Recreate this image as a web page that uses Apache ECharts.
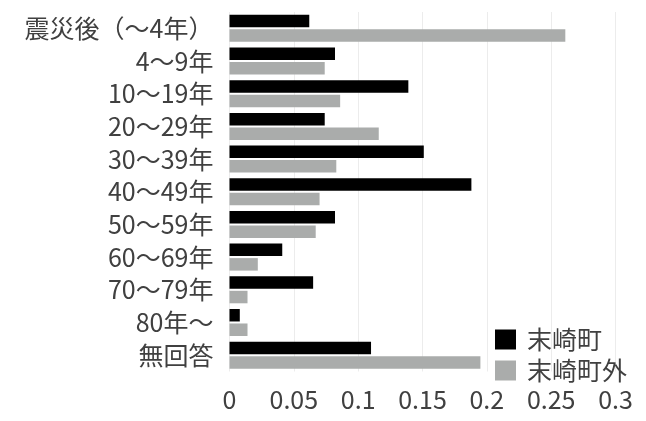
<!DOCTYPE html>
<html>
<head>
<meta charset="utf-8">
<script src="https://cdn.jsdelivr.net/npm/echarts@6/dist/echarts.min.js"></script>
<style>
  html, body { margin: 0; padding: 0; background: #fff; }
  #chart { width: 646px; height: 421px; }
</style>
</head>
<body>
<div id="chart"></div>
<script>
// Period of residence categories (top to bottom)
const categories = ['震災後（～4年）', '4～9年', '10～19年', '20～29年', '30～39年', '40～49年',
  '50～59年', '60～69年', '70～79年', '80年～', '無回答'];
// Share of respondents per category
const inTown = [0.062, 0.082, 0.139, 0.074, 0.151, 0.188, 0.082, 0.041, 0.065, 0.008, 0.110];
const outOfTown = [0.261, 0.074, 0.086, 0.116, 0.083, 0.070, 0.067, 0.022, 0.014, 0.014, 0.195];
const seriesNames = ['末崎町', '末崎町外'];
const xTicks = { min: 0, max: 0.3, interval: 0.05 };

const font = '"Noto Sans CJK JP", "Noto Sans", sans-serif';
const textColor = '#404040';

const chart = echarts.init(document.getElementById('chart'), null, { renderer: 'canvas' });
chart.setOption({
  animation: false,
  backgroundColor: '#ffffff',
  grid: { left: 229.5, right: 30.5, top: 12, bottom: 49.5, containLabel: false },
  legend: {
    orient: 'vertical',
    left: 490,
    top: 322,
    itemWidth: 21,
    itemHeight: 20,
    itemGap: 6,
    icon: 'rect',
    textStyle: { fontFamily: font, fontSize: 25, color: textColor, lineHeight: 20, padding: [0, 0, 0, 6] },
    data: seriesNames
  },
  xAxis: {
    type: 'value',
    min: xTicks.min,
    max: xTicks.max,
    interval: xTicks.interval,
    axisLine: { show: false },
    axisTick: { show: false },
    axisLabel: { fontFamily: font, fontSize: 25, color: textColor, margin: 15 },
    splitLine: { show: true, lineStyle: { color: '#ececec', width: 1 } }
  },
  yAxis: {
    type: 'category',
    inverse: true,
    data: categories,
    axisLine: { show: false },
    axisTick: { show: false },
    axisLabel: { fontFamily: font, fontSize: 25, color: textColor, margin: 16 }
  },
  series: [
    {
      name: seriesNames[0],
      type: 'bar',
      data: inTown,
      barWidth: 12.5,
      barGap: '16%',
      itemStyle: { color: '#000000' }
    },
    {
      name: seriesNames[1],
      type: 'bar',
      data: outOfTown,
      barWidth: 12.5,
      itemStyle: { color: '#aaacab' }
    }
  ]
});
</script>
</body>
</html>
